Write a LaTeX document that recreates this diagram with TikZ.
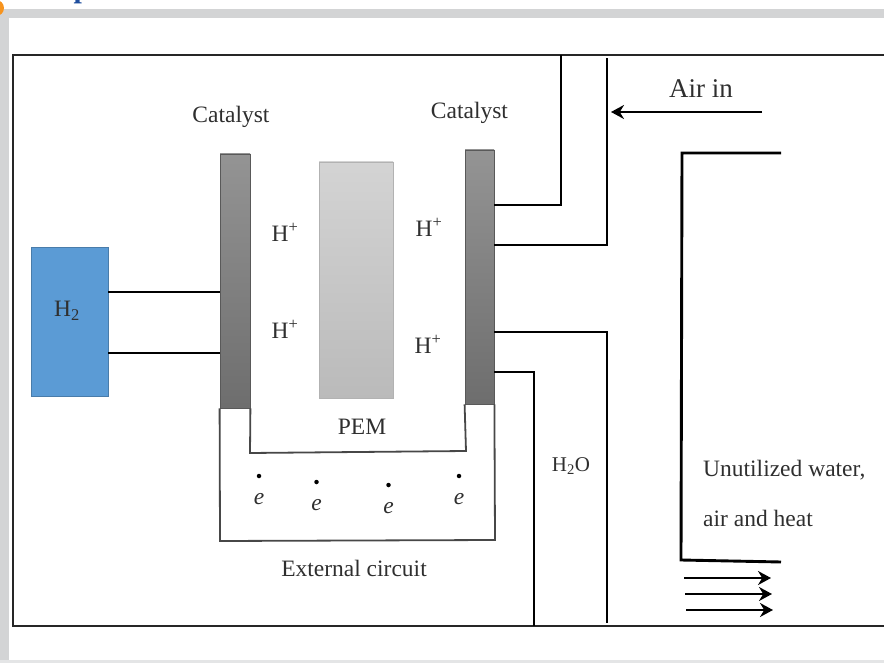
\documentclass[tikz,border=0pt]{standalone}
\usepackage{fontspec}
\setmainfont{Liberation Serif}
\usetikzlibrary{arrows.meta, positioning}
\definecolor{pagegray}{HTML}{D3D4D5}
\definecolor{boxblue}{HTML}{5B9BD5}
\definecolor{inkgray}{HTML}{2F2F2F}
\definecolor{tabblue}{HTML}{1F4E9E}
\definecolor{taborange}{HTML}{F7941E}
\tikzstyle{cell}=[x=1pt, y=1pt, >={Stealth[length=13pt,width=14pt]}, text=inkgray, font=\fontsize{23.5}{27}\selectfont]
\tikzstyle{catalyst}=[draw=black!65, line width=.8pt, top color=black!42, bottom color=black!57, minimum width=30pt, inner sep=0pt]
\tikzstyle{label}=[inner sep=0pt]
\tikzstyle{pipe}=[line width=2.9pt, black]
\tikzstyle{wire}=[line width=1.8pt, black!72]
\tikzstyle{edot}=[circle, fill=black, inner sep=0pt, minimum size=4.5pt]

\begin{document}
\begin{tikzpicture}[cell]
  \useasboundingbox (0,0) rectangle (884,-663);
  % page around the figure
  \fill[pagegray] (0,-9) rectangle (884,-18);
  \fill[pagegray] (0,-9) rectangle (9,-663);
  \fill[pagegray!60] (0,-660) rectangle (884,-663);
  \fill[taborange] (-4,-8) circle (8);
  \node[text=tabblue, font=\fontsize{30}{30}\bfseries\selectfont, anchor=base] (tabtext) at (82,2) {p};
  \draw[line width=1.5pt, black!85] (884,-55) -- (13,-55) -- (13,-626) -- (884,-626);

  \node[catalyst, minimum height=254pt] (leftcat) at (235,-281) {};
  \node[catalyst, minimum height=254pt, minimum width=29pt] (rightcat) at (479.5,-277) {};
  \node[draw=black!30, line width=.6pt, top color=black!17, bottom color=black!27, minimum width=74pt, minimum height=236pt, inner sep=0pt] (pem) at (356,-280) {};
  \node[draw=boxblue!80!black, line width=.5pt, fill=boxblue, minimum width=77pt, minimum height=149pt, inner sep=0pt] (hydrogen) at (69.5,-321.5) {};

  \node[label] (hlabel) at (67,-311) {H\textsubscript{2}};
  \node[label] (leftcatlabel) [above=26pt of leftcat, xshift=-4pt] {Catalyst};
  \node[label] (rightcatlabel) [above=26pt of rightcat, xshift=-10pt] {Catalyst};
  \node[label] (pemlabel) [below=21pt of pem, xshift=6pt] {PEM};
  \node[label] (proton1) at (285,-232) {H\textsuperscript{+}};
  \node[label] (proton2) at (285,-329) {H\textsuperscript{+}};
  \node[label] (proton3) at (429,-227) {H\textsuperscript{+}};
  \node[label] (proton4) at (428,-344) {H\textsuperscript{+}};

  % hydrogen feed
  \draw[pipe] (hydrogen.east |- 0,-292) -- (leftcat.west |- 0,-292);
  \draw[pipe] (hydrogen.east |- 0,-353) -- (leftcat.west |- 0,-353);

  % air feed and water outlet
  \coordinate (airleft) at (561,-55);
  \coordinate (airright) at (607,-58);
  \coordinate (waterleft) at (534,-626);
  \coordinate (waterright) at (607,-623);
  \draw[pipe] (rightcat.east |- 0,-205) -| (airleft);
  \draw[pipe] (rightcat.east |- 0,-245) -| (airright);
  \draw[pipe] (rightcat.east |- 0,-332) -| (waterright);
  \draw[pipe] (rightcat.east |- 0,-372) -| (waterleft);

  \coordinate (airstart) at (762,-112);
  \coordinate (airend) at (611,-112);
  \draw[->, pipe] (airstart) -- (airend);
  \node[label, font=\fontsize{27}{30}\selectfont] (airlabel) at (701,-89) {Air in};

  % exhaust
  \coordinate (exhausttop) at (781,-153);
  \coordinate (exhaustup) at (682,-153);
  \coordinate (exhaustlow) at (681,-560);
  \coordinate (exhaustend) at (781,-562);
  \draw[pipe] (exhausttop) -- (exhaustup) -- (exhaustlow) -- (exhaustend);
  \coordinate (flow1a) at (684,-578);
  \coordinate (flow1b) at (771,-578);
  \coordinate (flow2a) at (685,-594);
  \coordinate (flow2b) at (772,-594);
  \coordinate (flow3a) at (686,-610);
  \coordinate (flow3b) at (773,-610);
  \draw[->, line width=2pt, black] (flow1a) -- (flow1b);
  \draw[->, line width=2pt, black] (flow2a) -- (flow2b);
  \draw[->, line width=2pt, black] (flow3a) -- (flow3b);

  % circuit below the cell
  \coordinate (outerleft) at (220,-541);
  \coordinate (outerright) at (495,-540);
  \coordinate (innerleft) at (250,-453);
  \coordinate (innerright) at (466,-451);
  \draw[wire] (leftcat.south west) -- (outerleft) -- (outerright) -- (rightcat.south east);
  \draw[wire] (leftcat.south east) -- (innerleft) -- (innerright) -- (rightcat.south west);

  \node[edot] (dot1) at (259,-476) {};
  \node[edot] (dot2) at (316.5,-482) {};
  \node[edot] (dot3) at (388.5,-485) {};
  \node[edot] (dot4) at (459,-476) {};
  \node[label] (elec1) [below=23pt of dot1.center, anchor=center] {\textit{e}};
  \node[label] (elec2) [below=23pt of dot2.center, anchor=center] {\textit{e}};
  \node[label] (elec3) [below=23pt of dot3.center, anchor=center] {\textit{e}};
  \node[label] (elec4) [below=23pt of dot4.center, anchor=center] {\textit{e}};

  \node[label] (circuitlabel) at (354,-568) {External circuit};
  \node[label, font=\fontsize{21}{25}\selectfont] (waterlabel) at (571,-466) {H\textsubscript{2}O};
  \node[label, anchor=west] (unused1) at (703,-470) {Unutilized water,};
  \node[label, anchor=west] (unused2) at (703,-518) {air and heat};
\end{tikzpicture}
\end{document}
